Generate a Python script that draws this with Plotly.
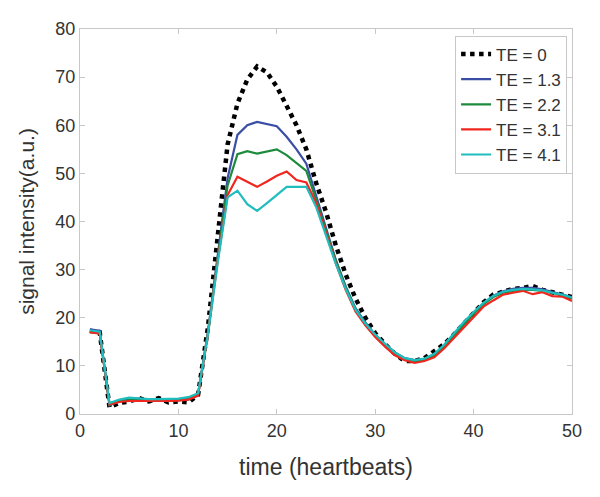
import plotly.graph_objects as go

# time axis (heartbeats)
beats = list(range(1, 51))

# signal intensity per echo time
te_0 = [17.3, 17.0, 1.4, 2.3, 2.6, 3.3, 2.6, 3.3, 2.4, 2.6,
        2.4, 4.0, 18.0, 36.0, 56.0, 64.5, 69.5, 72.2, 71.0, 68.0,
        64.0, 60.0, 55.0, 48.0, 42.0, 35.0, 29.0, 24.0, 20.0, 16.8,
        14.5, 12.5, 11.0, 11.0, 11.6, 13.0, 14.5, 16.5, 18.8, 21.0,
        23.2, 24.8, 25.5, 26.0, 26.2, 26.6, 25.8, 25.3, 24.8, 24.3]
te_13 = [17.6, 17.3, 1.8, 2.8, 3.1, 3.2, 2.9, 3.0, 3.0, 3.0,
         3.2, 4.2, 17.0, 33.0, 49.0, 58.0, 60.0, 60.7, 60.3, 59.8,
         57.6, 55.0, 52.0, 45.5, 38.5, 32.0, 26.5, 22.0, 19.0, 16.5,
         14.5, 12.8, 11.6, 11.2, 11.4, 12.3, 14.2, 16.5, 18.8, 21.0,
         23.0, 24.6, 25.5, 26.0, 26.2, 26.2, 25.9, 25.4, 24.9, 24.3]
te_22 = [17.0, 16.8, 1.9, 2.6, 2.9, 2.8, 2.8, 2.9, 2.8, 2.9,
         3.0, 4.0, 16.8, 32.5, 47.5, 54.0, 54.6, 54.1, 54.5, 55.0,
         53.8, 52.2, 50.5, 44.5, 38.0, 31.8, 26.3, 21.8, 18.8, 16.4,
         14.4, 12.6, 11.4, 11.0, 11.2, 12.1, 14.0, 16.3, 18.6, 20.8,
         22.8, 24.3, 25.2, 25.6, 25.8, 25.8, 25.6, 25.1, 24.7, 24.0]
te_31 = [17.0, 16.7, 2.0, 2.5, 2.7, 2.7, 2.6, 2.7, 2.7, 2.8,
         3.0, 3.8, 16.5, 32.0, 45.5, 49.3, 48.2, 47.2, 48.3, 49.5,
         50.4, 48.6, 48.1, 43.8, 37.6, 31.3, 25.8, 21.3, 18.4, 16.0,
         14.0, 12.2, 11.2, 10.6, 11.0, 11.8, 13.6, 15.8, 18.1, 20.3,
         22.3, 23.6, 24.8, 25.2, 25.6, 24.9, 25.3, 24.5, 24.4, 23.5]
te_41 = [17.4, 17.1, 2.3, 3.0, 3.4, 3.2, 3.1, 3.1, 3.1, 3.2,
         3.5, 4.3, 16.5, 31.5, 45.0, 46.4, 43.6, 42.2, 43.8, 45.6,
         47.2, 47.2, 47.2, 43.0, 37.3, 31.2, 26.0, 21.7, 18.8, 16.5,
         14.6, 12.8, 11.6, 11.2, 11.5, 12.5, 14.4, 16.8, 19.1, 21.2,
         23.1, 24.5, 25.4, 25.8, 26.0, 25.9, 25.7, 25.2, 24.8, 24.2]

series = [
    ("TE = 0", te_0, "#000000", "dot", 4.5),
    ("TE = 1.3", te_13, "#3a4ea6", "solid", 2.2),
    ("TE = 2.2", te_22, "#1e8a3c", "solid", 2.2),
    ("TE = 3.1", te_31, "#f0261f", "solid", 2.2),
    ("TE = 4.1", te_41, "#1fbdbd", "solid", 2.2),
]

fig = go.Figure()
for name, vals, col, dash, w in series:
    fig.add_trace(go.Scatter(x=beats, y=vals, mode="lines", name=name,
                             line=dict(color=col, dash=dash, width=w)))

axis_style = dict(showgrid=False, zeroline=False, showline=True, linecolor="#c8c8c8",
                  linewidth=1.2, mirror="ticks", ticks="inside", ticklen=5,
                  tickcolor="#c8c8c8", tickfont=dict(size=18, color="#333333"),
                  automargin=False)

# page body adds an 8px offset, margins account for it
fig.update_layout(
    width=600, height=497,
    margin=dict(l=72, r=36, t=21, b=91),
    paper_bgcolor="white", plot_bgcolor="white",
    font=dict(family="Liberation Sans, Arial, sans-serif", color="#333333"),
    xaxis=dict(range=[0, 50], tickvals=[0, 10, 20, 30, 40, 50],
               title=dict(text="time (heartbeats)", font=dict(size=23), standoff=19),
               **axis_style),
    yaxis=dict(range=[0, 80], tickvals=[0, 10, 20, 30, 40, 50, 60, 70, 80],
               title=dict(text="signal intensity(a.u.)", font=dict(size=21), standoff=14),
               **axis_style),
    legend=dict(x=0.99, xanchor="right", y=0.983, yanchor="top",
                bgcolor="white", bordercolor="#c8c8c8", borderwidth=1,
                font=dict(size=17, color="#333333"), tracegroupgap=0),
    showlegend=True,
)

fig.write_html("out.html")
